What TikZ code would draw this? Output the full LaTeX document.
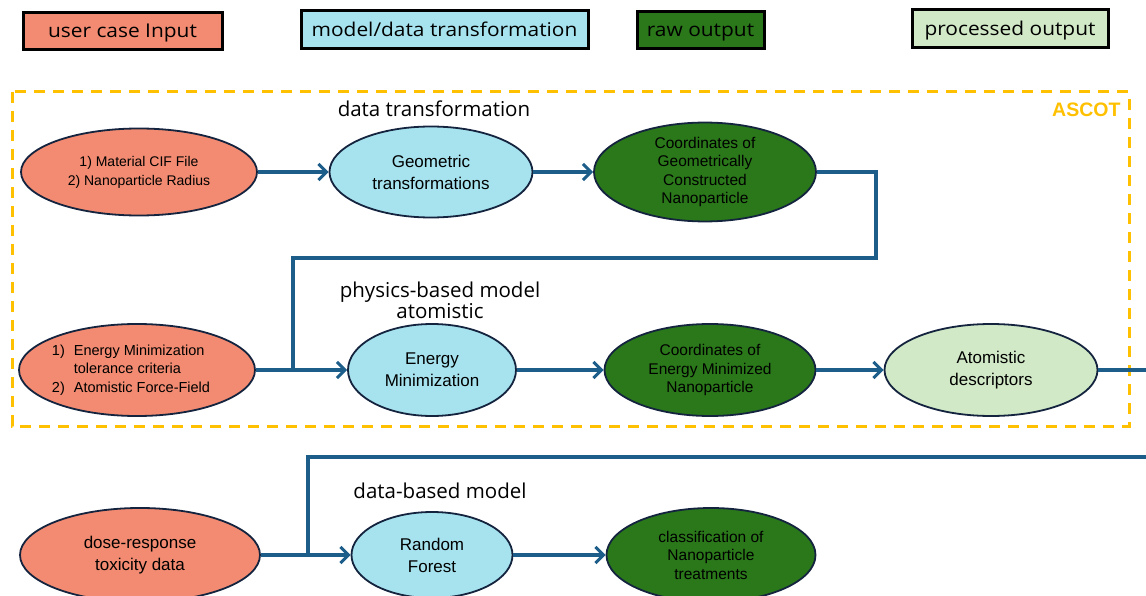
\documentclass[tikz,border=0pt]{standalone}
\usepackage{fontspec}
\setmainfont{Liberation Sans}
\newfontfamily\headfont{Open Sans}
\newfontfamily\legendfont{Open Sans}[FakeStretch=1.1]
\usetikzlibrary{shapes.geometric,arrows.meta}

\definecolor{inputc}{HTML}{F28B71}
\definecolor{modelc}{HTML}{A7E3EE}
\definecolor{rawc}{HTML}{2A781A}
\definecolor{procc}{HTML}{D1E9C7}
\definecolor{flowc}{HTML}{1D5D8A}
\definecolor{edgec}{HTML}{14243F}
\definecolor{ascotc}{HTML}{FFC000}

\tikzset{
  legendbox/.style={draw=black, line width=3pt, inner sep=0pt,
    text height=14pt, text depth=1pt,
    font=\legendfont\fontsize{19}{22}\selectfont},
  blob/.style={ellipse, draw=edgec, line width=1.8pt, inner sep=0pt, align=center},
  flow/.style={draw=flowc, line width=3.5pt},
  flowarrow/.style={flow, -{Straight Barb[length=8pt,width=16pt,line width=3pt]}},
  heading/.style={font=\headfont\fontsize{20.5}{23}\selectfont, align=center},
  small/.style={font=\fontsize{14}{19}\selectfont},
  mid/.style={font=\fontsize{17}{22}\selectfont},
  tight/.style={font=\fontsize{15.5}{18.5}\selectfont},
}

\begin{document}
\begin{tikzpicture}[x=1pt, y=-1pt]
\clip (0,0) rectangle (1146,596);
\fill[white] (0,0) rectangle (1146,596);

% legend
\node[legendbox, fill=inputc, minimum width=199pt, minimum height=37pt] (lg1) at (122.5,31.5) {user case Input};
\node[legendbox, fill=modelc, minimum width=287pt, minimum height=38pt] (lg2) at (444.5,30) {model/data transformation};
\node[legendbox, fill=rawc, minimum width=127pt, minimum height=37pt] (lg3) at (700.5,30.5) {raw output};
\node[legendbox, fill=procc, minimum width=196pt, minimum height=38pt] (lg4) at (1010,29) {processed output};

% ASCOT boundary
\draw[ascotc, line width=3pt, dash pattern=on 11pt off 8pt] (12,92) rectangle (1129,426);
\node[text=ascotc, font=\bfseries\fontsize{19.5}{22}\selectfont, anchor=east] (ascot) at (1124,110) {ASCOT};

% section headings
\node[heading] (h1) at (434,109) {data transformation};
\node[heading] (h2) at (440,300) {physics-based model\\[-2pt]atomistic};
\node[heading] (h3) at (440,491) {data-based model};

% row 1: geometric construction
\node[blob, fill=inputc, minimum width=236pt, minimum height=87pt, small] (e1) at (139,172)
  {1) Material CIF File\\2) Nanoparticle Radius};
\node[blob, fill=modelc, minimum width=203pt, minimum height=91pt, mid] (e2) at (431,172)
  {Geometric\\transformations};
\node[blob, fill=rawc, minimum width=222pt, minimum height=91pt, tight] (e3) at (705,172)
  {Coordinates of\\Geometrically\\Constructed\\Nanoparticle};

% row 2: energy minimization
\node[blob, fill=inputc, minimum width=236pt, minimum height=92pt, font=\fontsize{14.5}{18.5}\selectfont] (e4) at (137,370)
  {\hspace*{-12pt}\begin{tabular}{@{}l@{\hspace{9pt}}l@{}}1) & Energy Minimization\\ & tolerance criteria\\ 2) & Atomistic Force-Field\end{tabular}};
\node[blob, fill=modelc, minimum width=168pt, minimum height=92pt, mid] (e5) at (432,370)
  {Energy\\Minimization};
\node[blob, fill=rawc, minimum width=211pt, minimum height=92pt, tight] (e6) at (710,370)
  {Coordinates of\\Energy Minimized\\Nanoparticle};
\node[blob, fill=procc, minimum width=213pt, minimum height=92pt, mid] (e7) at (991,370)
  {Atomistic\\descriptors};

% row 3: toxicity classification
\node[blob, fill=inputc, minimum width=240pt, minimum height=94pt, mid] (e8) at (140,555)
  {dose-response\\toxicity data};
\node[blob, fill=modelc, minimum width=161pt, minimum height=86pt, mid] (e9) at (432,555)
  {Random\\Forest};
\node[blob, fill=rawc, minimum width=209pt, minimum height=94pt, tight] (e10) at (711,555)
  {classification of\\Nanoparticle\\treatments};

% junctions and free ends
\coordinate (j1) at (293,370);
\coordinate (j2) at (308,555);
\coordinate (outR) at (1160,370);
\coordinate (inR) at (1160,457);

% connectors
\draw[flowarrow] (e1.east) -- (e2.west);
\draw[flowarrow] (e2.east) -- (e3.west);
\draw[flow] (e3.east) -- (876,172) |- (293,258) -- (j1);
\draw[flowarrow] (e4.east) -- (e5.west);
\draw[flowarrow] (e5.east) -- (e6.west);
\draw[flowarrow] (e6.east) -- (e7.west);
\draw[flow] (e7.east) -- (outR);
\draw[flow] (inR) -| (j2);
\draw[flowarrow] (e8.east) -- (e9.west);
\draw[flowarrow] (e9.east) -- (e10.west);
\end{tikzpicture}
\end{document}
